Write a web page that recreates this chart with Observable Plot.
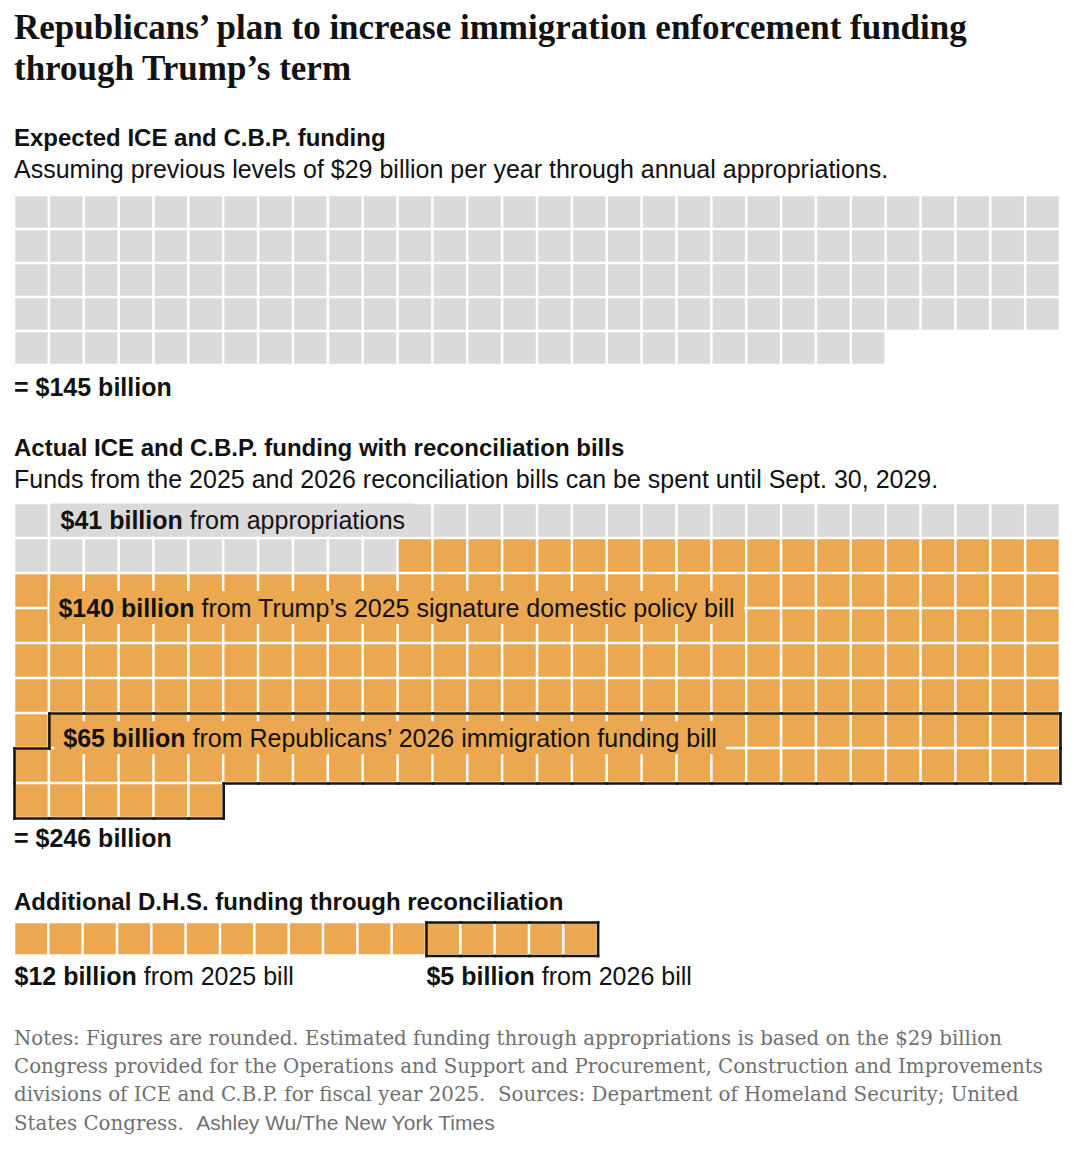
<!DOCTYPE html>
<html><head><meta charset="utf-8">
<script src="https://cdn.jsdelivr.net/npm/d3@7"></script>
<script src="https://cdn.jsdelivr.net/npm/@observablehq/plot@0.6"></script>
<style>
body{margin:0;background:#fff;}
#page{position:relative;width:1080px;height:1162px;font-family:"Liberation Sans",Arial,sans-serif;color:#121212;overflow:hidden;}
.abs{position:absolute;left:14px;white-space:nowrap;}
.plot{left:0;}
.title{font-family:"Liberation Serif",serif;font-weight:700;font-size:35px;line-height:41px;}
.sub{font-weight:700;font-size:24px;line-height:30px;}
.body{font-size:25px;line-height:30px;}
.total{font-weight:700;font-size:25px;line-height:30px;}
.notes{font-family:"DejaVu Serif",serif;font-size:19px;line-height:28px;color:#707070;}
.credit{font-family:"Liberation Sans",Arial,sans-serif;font-size:21px;}
</style></head>
<body>
<div id="page">
  <div class="abs title" style="top:7px">Republicans’ plan to increase immigration enforcement funding<br>through Trump’s term</div>
  <div class="abs sub" style="top:123px">Expected ICE and C.B.P. funding</div>
  <div class="abs body" style="top:154px">Assuming previous levels of $29 billion per year through annual appropriations.</div>
  <div id="w1" class="abs plot" style="top:193px"></div>
  <div id="t1" class="abs total" style="top:372px"></div>
  <div class="abs sub" style="top:433px">Actual ICE and C.B.P. funding with reconciliation bills</div>
  <div class="abs body" style="top:464px">Funds from the 2025 and 2026 reconciliation bills can be spent until Sept. 30, 2029.</div>
  <div id="w2" class="abs plot" style="top:500px"></div>
  <div id="t2" class="abs total" style="top:823px"></div>
  <div class="abs sub" style="top:887px">Additional D.H.S. funding through reconciliation</div>
  <div id="w3" class="abs plot" style="top:918px"></div>
  <div id="notes" class="abs notes" style="top:1025px"><span id="n1">Notes: Figures are rounded. Estimated funding through appropriations is based on the $29 billion</span><br>Congress provided for the Operations and Support and Procurement, Construction and Improvements<br>divisions of ICE and C.B.P. for fiscal year 2025.&nbsp; Sources: Department of Homeland Security; United<br>States Congress.&nbsp; <span class="credit">Ashley Wu/The New York Times</span></div>
</div>
<script>
// ---------- data ----------
const expectedNames = ["Annual appropriations"];
const expectedValues = [145];

const actualNames = ["Appropriations", "2025 reconciliation bill", "2026 reconciliation bill"];
const actualValues = [41, 140, 65];
const actualBold = ["$41 billion", "$140 billion", "$65 billion"];
const actualRest = ["from appropriations", "from Trump’s 2025 signature domestic policy bill", "from Republicans’ 2026 immigration funding bill"];

const dhsNames = ["D.H.S. 2025 bill", "D.H.S. 2026 bill"];
const dhsValues = [12, 5];
const dhsBold = ["$12 billion", "$5 billion"];
const dhsRest = ["from 2025 bill", "from 2026 bill"];

// ---------- style ----------
const COLS = 30;
const GRAY = "#dadada", ORANGE = "#eba851", INK = "#121212", LINE = "#1a1611";
const NS = "http://www.w3.org/2000/svg";

function layout(values) {
  const cells = [], starts = [];
  let k = 0;
  values.forEach((v, g) => {
    starts.push(k);
    for (let j = 0; j < v; j++, k++) cells.push({g, col: k % COLS, row: Math.floor(k / COLS)});
  });
  return {cells, starts};
}
function outline(cells) {
  const key = (c, r) => c + "," + r;
  const S = new Set(cells.map(d => key(d.col, d.row)));
  const segs = [];
  for (const {col, row} of cells) {
    if (!S.has(key(col, row - 1))) segs.push({x1: col, x2: col + 1, y1: row, y2: row});
    if (!S.has(key(col, row + 1))) segs.push({x1: col, x2: col + 1, y1: row + 1, y2: row + 1});
    if (!S.has(key(col - 1, row))) segs.push({x1: col, x2: col, y1: row, y2: row + 1});
    if (!S.has(key(col + 1, row))) segs.push({x1: col + 1, x2: col + 1, y1: row, y2: row + 1});
  }
  return segs;
}

function waffle({names, values, fills, outlined, rows, rowH, right, mt, mb, labelMarks}) {
  const {cells, starts} = layout(values);
  const segs = outline(cells.filter(d => outlined[d.g]));
  const height = mt + rows * rowH + mb;
  return Plot.plot({
    width: 1080, height,
    marginLeft: 14, marginRight: 1080 - right, marginTop: mt, marginBottom: mb,
    x: {domain: [0, COLS], axis: null},
    y: {domain: [0, rows], range: [mt, mt + rows * rowH], axis: null},
    color: {domain: names, range: fills},
    style: {fontFamily: '"Liberation Sans", Arial, sans-serif', background: "transparent", overflow: "visible"},
    marks: [
      Plot.rect(cells, {x1: "col", x2: d => d.col + 1, y1: "row", y2: d => d.row + 1, fill: d => names[d.g], inset: 1.25}),
      ...labelMarks(starts),
      Plot.link(segs, {x1: "x1", y1: "y1", x2: "x2", y2: "y2", stroke: LINE, strokeWidth: 2.6, strokeLinecap: "square"})
    ]
  });
}

function richLabels(svg, labels) {
  svg.querySelectorAll("g[aria-description='segment label'] text").forEach(t => {
    const s = t.textContent.trim();
    const L = labels.find(l => l.bold + " " + l.rest === s);
    if (!L) return;
    t.textContent = "";
    const b = document.createElementNS(NS, "tspan");
    b.setAttribute("font-weight", "700");
    b.textContent = L.bold;
    const r = document.createElementNS(NS, "tspan");
    r.textContent = "\u00a0" + L.rest;
    t.append(b, r);
    if (L.bg) {
      const bb = t.getBBox();
      const rect = document.createElementNS(NS, "rect");
      rect.setAttribute("x", bb.x - 9);
      rect.setAttribute("y", bb.y - 2.5);
      rect.setAttribute("width", bb.width + 18);
      rect.setAttribute("height", bb.height + 5);
      rect.setAttribute("fill", L.bg);
      rect.setAttribute("stroke", "none");
      if (t.getAttribute("transform")) rect.setAttribute("transform", t.getAttribute("transform"));
      t.parentNode.insertBefore(rect, t);
    }
  });
}

// ---------- waffle 1 ----------
const w1 = waffle({
  names: expectedNames, values: expectedValues, fills: [GRAY], outlined: [false],
  rows: 5, rowH: 34, right: 1060, mt: 2, mb: 2, labelMarks: () => []
});
document.getElementById("w1").append(w1);
document.getElementById("t1").textContent = "= $" + d3.sum(expectedValues) + " billion";

// ---------- waffle 2 ----------
const actualFills = [GRAY, ORANGE, ORANGE];
const place = [[1.32, 0.5], [1.26, 3.0], [1.4, 6.72]];
const actualLabels = actualBold.map((b, i) => ({bold: b, rest: actualRest[i], bg: actualFills[i], px: place[i][0], py: place[i][1]}));
const w2 = waffle({
  names: actualNames, values: actualValues, fills: actualFills, outlined: [false, false, true],
  rows: 9, rowH: 35, right: 1060, mt: 3, mb: 3,
  labelMarks: () => [Plot.text(actualLabels, {x: "px", y: "py", text: d => d.bold + " " + d.rest,
    textAnchor: "start", lineAnchor: "middle", fontSize: 25, fill: INK, ariaDescription: "segment label"})]
});
document.getElementById("w2").append(w2);
richLabels(w2, actualLabels);
document.getElementById("t2").textContent = "= $" + d3.sum(actualValues) + " billion";

// ---------- waffle 3 ----------
let dhsLabels = [];
const w3 = waffle({
  names: dhsNames, values: dhsValues, fills: [ORANGE, ORANGE], outlined: [false, true],
  rows: 1, rowH: 33.5, right: 14 + 30 * 34.33, mt: 4, mb: 44,
  labelMarks: starts => {
    dhsLabels = dhsBold.map((b, i) => ({bold: b, rest: dhsRest[i], bg: null, px: starts[i], py: 1}));
    return [Plot.text(dhsLabels, {x: "px", y: "py", dy: 21, text: d => d.bold + " " + d.rest,
      textAnchor: "start", lineAnchor: "middle", fontSize: 25, fill: INK, ariaDescription: "segment label"})];
  }
});
document.getElementById("w3").append(w3);
richLabels(w3, dhsLabels);

// ---------- fit notes width ----------
(function fitNotes() {
  const notes = document.getElementById("notes");
  const n1 = document.getElementById("n1");
  const w = n1.getBoundingClientRect().width;
  const fs = parseFloat(getComputedStyle(notes).fontSize);
  notes.style.fontSize = (fs * 989 / w) + "px";
})();
</script>
</body></html>
